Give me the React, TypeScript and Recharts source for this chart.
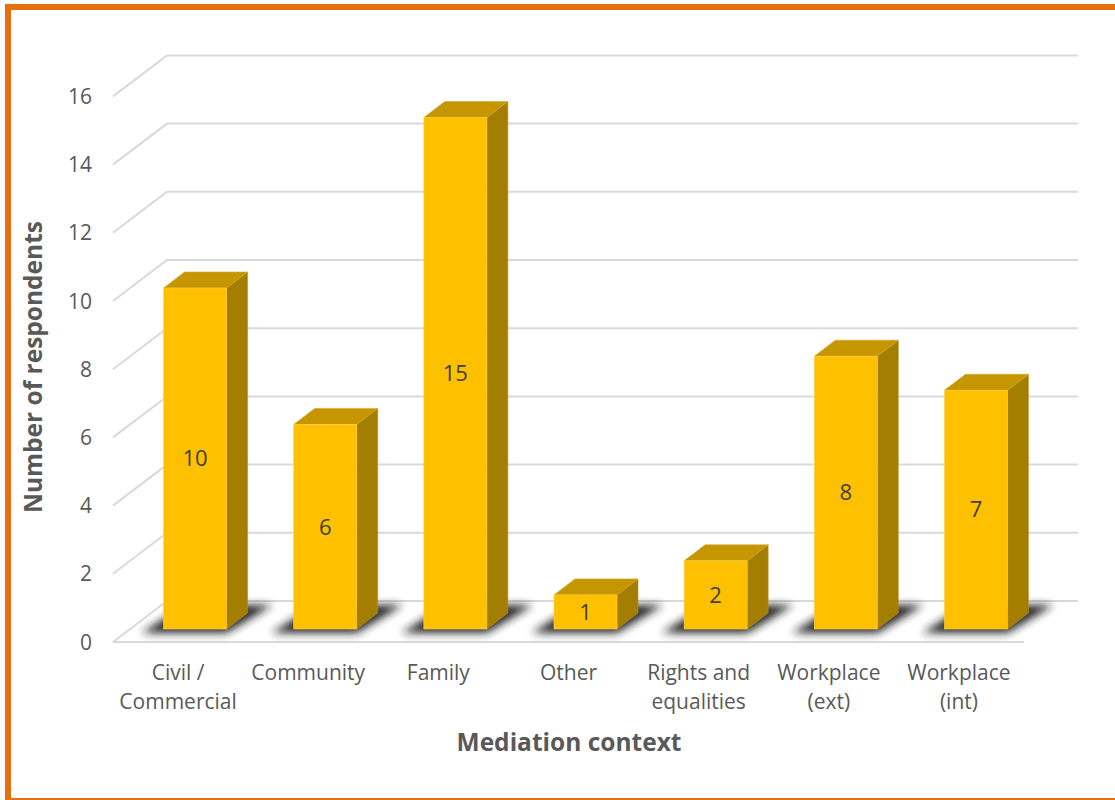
import { BarChart, Bar, XAxis, YAxis, CartesianGrid, LabelList } from "recharts";

const categories = [
  "Civil /\nCommercial",
  "Community",
  "Family",
  "Other",
  "Rights and\nequalities",
  "Workplace\n(ext)",
  "Workplace\n(int)",
];
const respondents = [10, 6, 15, 1, 2, 8, 7];
const yTicks = [0, 2, 4, 6, 8, 10, 12, 14, 16];

const chartData = categories.map((c, i) => ({ name: c, value: respondents[i] }));

const FONT = "'Open Sans', sans-serif";
const TEXT = "#595959";
const GRID = "#d9d9d9";
// depth offsets relative to the bar front plane
const BACK_DX = 37;
const BACK_DY = -28;
const FRONT_DX = -17;
const FRONT_DY = 13;
const BAR_DX = 21;
const BAR_DY = -16;

function GridLine(props: any) {
  const { x1, x2, y1, index } = props;
  const y = y1;
  const d = `M${x1 + FRONT_DX},${y + FRONT_DY} L${x1 + BACK_DX},${y + BACK_DY} L${x2 + BACK_DX},${y + BACK_DY}`;
  return (
    <g key={`g-${index}`}>
      <path d={d} fill="none" stroke={GRID} strokeWidth={2} />
      {index === 0 && (
        <path
          d={`M${x1 + FRONT_DX},${y + FRONT_DY} L${x2 + FRONT_DX},${y + FRONT_DY}`}
          stroke={GRID}
          strokeWidth={2}
        />
      )}
    </g>
  );
}

function YTick(props: any) {
  const { y, payload } = props;
  return (
    <text x={92} y={y + FRONT_DY} dy={7.5} textAnchor="end" fill={TEXT} fontSize={21} fontFamily={FONT}>
      {payload.value}
    </text>
  );
}

function XTick(props: any) {
  const { x, payload } = props;
  const lines = String(payload.value).split("\n");
  return (
    <text x={x + FRONT_DX} y={680} textAnchor="middle" fill={TEXT} fontSize={21} fontFamily={FONT}>
      {lines.map((l, i) => (
        <tspan key={i} x={x + FRONT_DX} dy={i === 0 ? 0 : 29}>
          {l}
        </tspan>
      ))}
    </text>
  );
}

function Bar3D(props: any) {
  const { x, y, width: w, height: h } = props;
  if (h == null) return null;
  const y0 = y + h;
  const shadow = `M${x - 22},${y0 + 4} L${x + w},${y0 + 4} L${x + w + 46},${y0 - 24} L${x + 22},${y0 - 24} Z`;
  const top = `M${x},${y} L${x + BAR_DX},${y + BAR_DY} L${x + w + BAR_DX},${y + BAR_DY} L${x + w},${y} Z`;
  const side = `M${x + w},${y} L${x + w + BAR_DX},${y + BAR_DY} L${x + w + BAR_DX},${y0 + BAR_DY} L${x + w},${y0} Z`;
  return (
    <g>
      <defs>
        <filter id="barShadow" x="-50%" y="-100%" width="200%" height="300%">
          <feGaussianBlur stdDeviation={4} />
        </filter>
      </defs>
      <path d={shadow} fill="#1e1e1e" opacity={0.95} filter="url(#barShadow)" />
      <path d={side} fill="#A47E00" stroke="#B89020" strokeWidth={0.6} />
      <path d={top} fill="#C59600" stroke="#D4A830" strokeWidth={0.6} />
      <rect x={x} y={y} width={w} height={h} fill="#FFC000" stroke="#FFD24D" strokeWidth={0.6} />
    </g>
  );
}

export default function App() {
  return (
    <div style={{ position: "fixed", left: 0, top: 0, width: 1115, height: 800, overflow: "hidden", background: "#fff" }}>
      <div
        style={{
          position: "absolute",
          left: 5,
          top: 4,
          width: 1130,
          height: 788,
          borderLeft: "6px solid #E6700F",
          borderTop: "6px solid #E6700F",
          borderBottom: "2px solid #E6700F",
        }}
      />
      <div style={{ position: "absolute", left: 0, top: 0 }}>
        <BarChart
          width={1115}
          height={800}
          data={chartData}
          margin={{ top: 83.4, right: 74, bottom: 111, left: 40 }}
          barCategoryGap="25.8%"
        >
          <CartesianGrid vertical={false} horizontal={(p: any) => <GridLine {...p} />} />
          <XAxis
            dataKey="name"
            axisLine={false}
            tickLine={false}
            interval={0}
            height={60}
            tick={<XTick />}
          />
          <YAxis
            domain={[0, 16]}
            ticks={yTicks}
            width={90}
            axisLine={false}
            tickLine={false}
            tick={<YTick />}
          />
          <Bar dataKey="value" isAnimationActive={false} shape={<Bar3D />}>
            <LabelList dataKey="value" position="center" fill="#404040" fontSize={22} fontFamily={FONT} />
          </Bar>
        </BarChart>
      </div>
      <svg width={1115} height={800} style={{ position: "absolute", left: 0, top: 0, pointerEvents: "none" }}>
        <text
          x={0}
          y={0}
          transform="translate(42,367) rotate(-90)"
          textAnchor="middle"
          fill={TEXT}
          fontSize={24.5}
          fontWeight="bold"
          fontFamily={FONT}
        >
          Number of respondents
        </text>
        <text x={569} y={751} textAnchor="middle" fill={TEXT} fontSize={24.5} fontWeight="bold" fontFamily={FONT}>
          Mediation context
        </text>
      </svg>
    </div>
  );
}
